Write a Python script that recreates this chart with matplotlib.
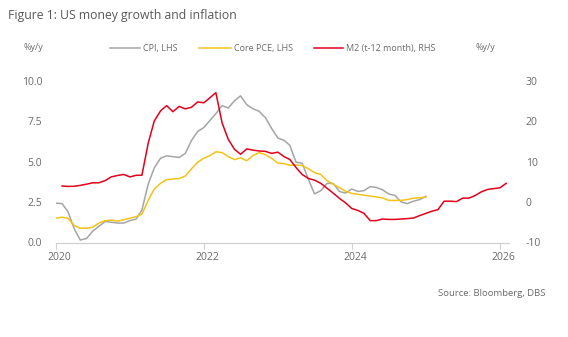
import matplotlib
matplotlib.use("Agg")
import matplotlib.pyplot as plt
import matplotlib.transforms as mtransforms
from matplotlib.lines import Line2D
import pandas as pd

plt.rcParams['font.family'] = ['Open Sans', 'DejaVu Sans']

# Monthly data (month-end), CPI & Core PCE: Dec 2019 - Dec 2024
cpi = [2.43, 2.4, 1.9, 0.85, 0.15, 0.25, 0.7, 1.0, 1.3, 1.25, 1.2, 1.2,
       1.35, 1.45, 2.0, 3.6, 4.6, 5.2, 5.35, 5.3, 5.25, 5.5, 6.3, 6.85,
       7.1, 7.55, 7.95, 8.45, 8.3, 8.75, 9.05, 8.5, 8.25, 8.1, 7.7, 7.05,
       6.45, 6.3, 6.0, 4.95, 4.9, 3.9, 3.0, 3.2, 3.65, 3.65, 3.15, 3.05,
       3.3, 3.15, 3.2, 3.45, 3.4, 3.25, 3.0, 2.9, 2.5, 2.4, 2.55, 2.65, 2.85]
core_pce = [1.5, 1.56, 1.5, 1.05, 0.88, 0.88, 0.95, 1.2, 1.35, 1.38, 1.32, 1.4,
            1.5, 1.6, 1.75, 2.6, 3.3, 3.65, 3.88, 3.92, 3.95, 4.1, 4.55, 4.95,
            5.2, 5.37, 5.6, 5.55, 5.3, 5.12, 5.22, 5.05, 5.37, 5.55, 5.42, 5.2,
            4.9, 4.87, 4.77, 4.78, 4.75, 4.55, 4.32, 4.2, 3.82, 3.6, 3.38, 3.17,
            3.03, 2.97, 2.92, 2.86, 2.82, 2.75, 2.6, 2.6, 2.6, 2.65, 2.74, 2.76, 2.8]
# M2 y/y shifted forward 12 months: Jan 2020 - Jan 2026
m2 = [3.95, 3.85, 3.88, 4.1, 4.4, 4.74, 4.74, 5.3, 6.2, 6.55, 6.8,
      6.2, 6.6, 6.6, 14.5, 20.0, 22.5, 23.8, 22.3, 23.6, 23.0, 23.4, 24.7,
      24.5, 25.8, 27.0, 19.5, 15.5, 13.0, 11.8, 13.1, 12.8, 12.6, 12.5, 12.0,
      12.3, 11.2, 10.5, 8.5, 6.8, 5.8, 5.4, 4.6, 3.4, 2.2, 0.9, -0.2,
      -1.6, -2.1, -2.8, -4.6, -4.6, -4.2, -4.3, -4.3, -4.2, -4.1, -3.95, -3.35,
      -2.8, -2.25, -1.9, 0.2, 0.2, 0.1, 0.95, 0.95, 1.6, 2.5, 3.1, 3.3, 3.5, 4.6]

dates_infl = pd.date_range('2019-12-31', periods=len(cpi), freq='ME')
dates_m2 = pd.date_range('2020-01-31', periods=len(m2), freq='ME')

left_ticks = [0.0, 2.5, 5.0, 7.5, 10.0]
right_ticks = [-10, 0, 10, 20, 30]
year_ticks = [2020, 2022, 2024, 2026]
labels = ['CPI, LHS', 'Core PCE, LHS', 'M2 (t-12 month), RHS']

c_cpi = '#A5A5A5'
c_pce = '#F2C318'
c_m2 = '#E2001A'
colors = [c_cpi, c_pce, c_m2]
txt = '#6b6b6b'

fig = plt.figure(figsize=(5.68, 3.37), dpi=100)
W, H = 568, 337
ax = fig.add_axes([56 / W, 1 - 242.5 / H, (509 - 56) / W, (242.5 - 80.5) / H])
ax2 = ax.twinx()

ax.plot(dates_infl, cpi, color=c_cpi, lw=1.1)
ax.plot(dates_infl, core_pce, color=c_pce, lw=1.1)
ax2.plot(dates_m2, m2, color=c_m2, lw=1.1)

ax.set_ylim(0, 10)
ax2.set_ylim(-10, 30)
ax.set_yticks(left_ticks)
ax.set_yticklabels([f'{v:.1f}' for v in left_ticks])
ax2.set_yticks(right_ticks)
ax2.set_yticklabels([str(v) for v in right_ticks])

ax.set_xlim(pd.Timestamp('2020-01-01'), pd.Timestamp('2026-02-14'))
ax.set_xticks([pd.Timestamp(f'{y}-01-01') for y in year_ticks])
ax.set_xticklabels([str(y) for y in year_ticks])

for a in (ax, ax2):
    for s in ('top', 'left', 'right', 'bottom'):
        a.spines[s].set_visible(False)
ax.spines['bottom'].set_visible(True)
ax.spines['bottom'].set_color('#D0D0D0')
ax.spines['bottom'].set_linewidth(0.9)

ax.tick_params(axis='y', length=0, pad=10, labelsize=7.5, labelcolor=txt)
ax2.tick_params(axis='y', length=0, pad=12, labelsize=7.5, labelcolor=txt)
ax.tick_params(axis='x', length=4, width=0.8, color='#D0D0D0', pad=3,
               labelsize=7.5, labelcolor=txt)
for lbl in ax2.get_yticklabels():
    lbl.set_horizontalalignment('left')
shift = mtransforms.ScaledTranslation(3 / 100, 0, fig.dpi_scale_trans)
for lbl in ax.get_xticklabels():
    lbl.set_transform(lbl.get_transform() + shift)

fig.text(8 / W, 1 - 16 / H, 'Figure 1: US money growth and inflation',
         fontsize=8.8, color='#595959', va='center', ha='left')
fig.text(23 / W, 1 - 48 / H, '%y/y', fontsize=6.5, color=txt, va='center', ha='left')
fig.text(475 / W, 1 - 48 / H, '%y/y', fontsize=6.5, color=txt, va='center', ha='left')
fig.text(545 / W, 1 - 293 / H, 'Source: Bloomberg, DBS', fontsize=6.8, color=txt,
         va='center', ha='right')

# legend row (manual placement)
leg_lines = [(110, 140), (199, 231), (314, 343)]
ly = 1 - 48 / H
for (x0, x1), lab, col in zip(leg_lines, labels, colors):
    fig.add_artist(Line2D([x0 / W, x1 / W], [ly, ly], color=col, lw=1.1,
                          transform=fig.transFigure))
    fig.text((x1 + 3) / W, ly, lab, fontsize=6.5, color=txt, va='center', ha='left')

fig.savefig('out.png', dpi=100)
